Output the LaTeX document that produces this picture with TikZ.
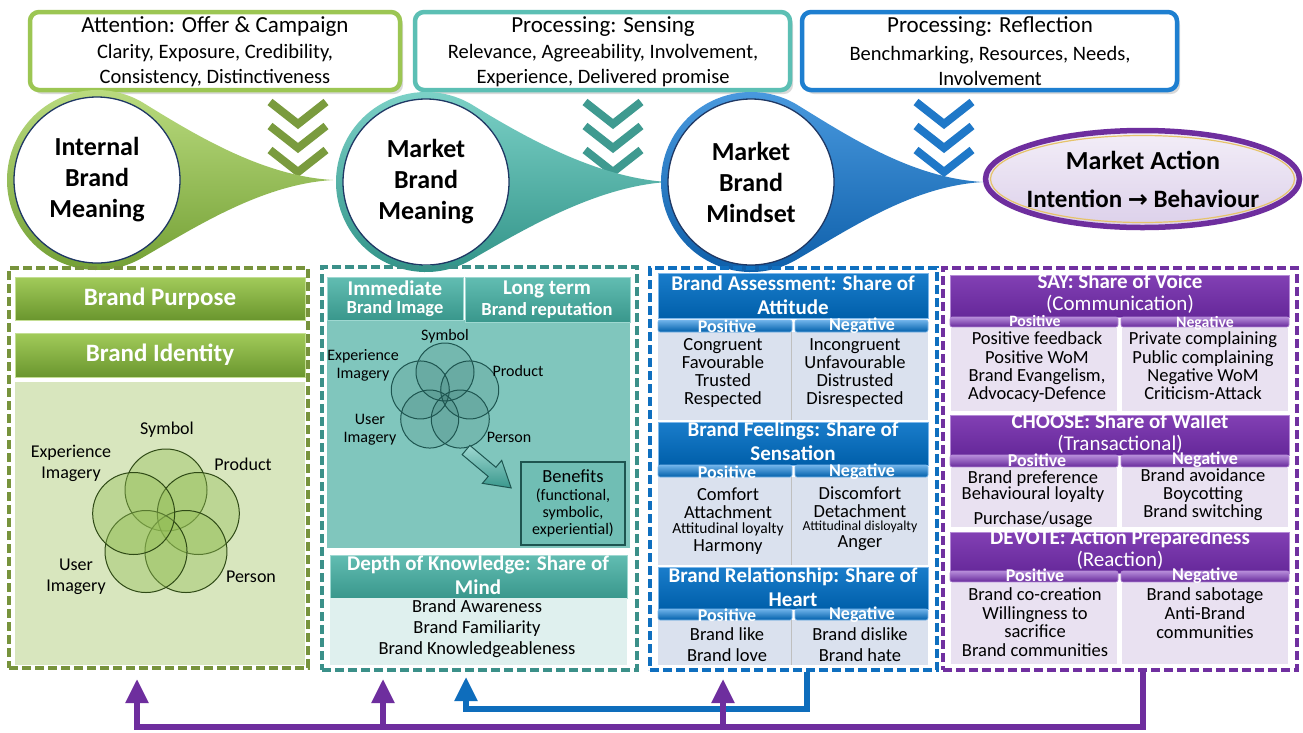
\documentclass[tikz,border=0pt]{standalone}
\usepackage{fontspec}
\setmainfont{Carlito}
\newfontfamily\symfont{DejaVu Sans}
\usetikzlibrary{arrows.meta,shapes.geometric}
\newcommand{\fsz}[2]{\fontsize{#1}{#2}\selectfont}

% palette
\definecolor{gBox}{HTML}{9CC653}
\definecolor{tBox}{HTML}{5CBFB4}
\definecolor{bBox}{HTML}{1E7FD0}
\definecolor{gChev}{HTML}{7A9B3E}
\definecolor{tChev}{HTML}{3F9A90}
\definecolor{bChev}{HTML}{1F78C8}
\definecolor{tdGTop}{HTML}{BBDC80}
\definecolor{tdGBot}{HTML}{6F9C30}
\definecolor{tdTTop}{HTML}{7DD2C8}
\definecolor{tdTBot}{HTML}{2D8F84}
\definecolor{tdBTop}{HTML}{4A9ADF}
\definecolor{tdBBot}{HTML}{0A5BA6}
\definecolor{navy}{HTML}{1F3864}
\definecolor{ringY}{HTML}{E6C36A}
\definecolor{maTop}{HTML}{F3EEF8}
\definecolor{maBot}{HTML}{DCD0EA}
\definecolor{gDash}{HTML}{77933C}
\definecolor{gTop}{HTML}{A2CB5A}
\definecolor{gBot}{HTML}{6A962E}
\definecolor{gEdge}{HTML}{C4DE93}
\definecolor{gPanel}{HTML}{D8E6BE}
\definecolor{gVenn}{HTML}{93BE55}
\definecolor{gLine}{HTML}{2F4A16}
\definecolor{tDash}{HTML}{3B9089}
\definecolor{tTop}{HTML}{62BDB2}
\definecolor{tBot}{HTML}{39978C}
\definecolor{tEdge}{HTML}{9ED8D1}
\definecolor{tPanel}{HTML}{80C6BD}
\definecolor{tPale}{HTML}{DFF0EE}
\definecolor{tLine}{HTML}{1E5550}
\definecolor{tBen}{HTML}{70BEB4}
\definecolor{bDash}{HTML}{0F6FBF}
\definecolor{bMid}{HTML}{0E6DBC}
\definecolor{bTop}{HTML}{1A7DCB}
\definecolor{bBot}{HTML}{005FAA}
\definecolor{bSub}{HTML}{6FB3EA}
\definecolor{bEdge}{HTML}{7DB7EA}
\definecolor{bPanel}{HTML}{DAE1EE}
\definecolor{pDash}{HTML}{7030A0}
\definecolor{pMid}{HTML}{6E2E9E}
\definecolor{pTop}{HTML}{8240B4}
\definecolor{pBot}{HTML}{66289A}
\definecolor{pSub}{HTML}{B68CDA}
\definecolor{pEdge}{HTML}{B48AD6}
\definecolor{pPanel}{HTML}{E9E1F1}

% circle with a tapering tail to the right: cx, cy, tip distance, top colour, bottom colour
\newcommand{\teardrop}[5]{%
  \begin{scope}[shift={(#1,#2)}]
    \path[top color=#4, bottom color=#5]
      (-60:90) .. controls (100,-44) and (#3-70,-4) .. (#3,0)
      .. controls (#3-70,4) and (100,46) .. (60:90)
      arc[start angle=60, end angle=300, radius=90] -- cycle;
  \end{scope}}

\begin{document}
\begin{tikzpicture}[x=1pt,y=-1pt,
  lbl/.style={inner sep=0pt, align=center},
  topbox/.style={draw=#1, line width=4.5pt, fill=white, rounded corners=9pt},
  chev/.style={draw=#1, line width=8pt, line join=miter},
  brandcircle/.style={circle, draw=navy, line width=1.3pt, fill=white,
    minimum size=166pt, inner sep=0pt, align=center, font=\bfseries\fsz{26}{31}},
  dbox/.style={draw=#1, line width=4pt, dash pattern=on 9pt off 4pt, inner sep=0pt},
  gbar/.style={top color=gTop, bottom color=gBot, draw=gEdge, line width=0.8pt},
  tbar/.style={top color=tTop, bottom color=tBot, draw=tEdge, line width=0.8pt},
  bbar/.style={top color=bTop, bottom color=bBot, draw=bEdge, line width=0.8pt},
  pbar/.style={top color=pTop, bottom color=pBot, draw=pEdge, line width=0.8pt},
  bsub/.style={top color=bSub, bottom color=bBot, draw=bEdge, line width=0.6pt, rounded corners=2pt},
  psub/.style={top color=pSub, bottom color=pBot, draw=pEdge, line width=0.6pt, rounded corners=2pt},
  whead/.style={lbl, text=white, font=\bfseries\fsz{21}{24}},
  phead/.style={lbl, text=white, font=\fsz{21}{22}},
  subtxt/.style={lbl, text=white, font=\bfseries\fsz{18}{18}},
  body/.style={lbl, font=\fsz{18.5}{18}},
  venng/.style={fill=gVenn, fill opacity=0.4, draw=gLine, line width=1pt},
  vennt/.style={fill=tLine, fill opacity=0.12, draw=tLine, line width=1pt},
  pline/.style={draw=pMid, line width=5.5pt},
  parrow/.style={pline, -{Triangle[width=22pt,length=24pt]}},
  bline/.style={draw=bMid, line width=5.5pt},
  barrow/.style={bline, -{Triangle[width=22pt,length=24pt]}},
]
\useasboundingbox (0,0) rectangle (1303,732);
\fill[white] (0,0) rectangle (1303,732);

% ---------- processing boxes ----------
\fill[black!15, rounded corners=9pt] (33,16) rectangle (403,94);
\draw[topbox=gBox] (30,12) rectangle (400,90);
\fill[black!15, rounded corners=9pt] (418,16) rectangle (793,94);
\draw[topbox=tBox] (415,12) rectangle (790,90);
\fill[black!15, rounded corners=9pt] (805,16) rectangle (1180,94);
\draw[topbox=bBox] (802,12) rectangle (1177,90);

\node[lbl, font=\fsz{23}{25}] (attT) at (215,27) {Attention: Offer \& Campaign};
\node[lbl, font=\fsz{20.5}{25}] (attX) at (215,66) {Clarity, Exposure, Credibility,\\Consistency, Distinctiveness};
\node[lbl, font=\fsz{23}{25}] (senT) at (603,27) {Processing: Sensing};
\node[lbl, font=\fsz{20.5}{25}] (senX) at (603,66) {Relevance, Agreeability, Involvement,\\Experience, Delivered promise};
\node[lbl, font=\fsz{23}{25}] (refT) at (990,27) {Processing: Reflection};
\node[lbl, font=\fsz{20.5}{25}] (refX) at (990,66) {Benchmarking, Resources, Needs,\\Involvement};

% ---------- chevrons ----------
\foreach \t in {102,126,150} {
  \draw[chev=gChev] (270,\t) -- (298,\t+22) -- (326,\t);
  \draw[chev=tChev] (585,\t) -- (613,\t+22) -- (641,\t);
  \draw[chev=bChev] (916,\t) -- (944,\t+22) -- (972,\t);
}

% ---------- brand circles ----------
\teardrop{97}{180}{236}{tdGTop}{tdGBot}
\teardrop{426}{182}{242}{tdTTop}{tdTBot}
\teardrop{751}{182}{232}{tdBTop}{tdBBot}
\node[brandcircle] (ibm) at (97,180) {Internal\\Brand\\Meaning};
\node[brandcircle] (mbm) at (426,182) {Market\\Brand\\Meaning};
\node[brandcircle] (mbs) at (751,182) {Market\\Brand\\Mindset};

\node[ellipse, draw=pMid, line width=5.5pt, top color=maTop, bottom color=maBot,
  minimum width=314pt, minimum height=97pt] (ma) at (1142.5,179) {};
\node[ellipse, draw=ringY, line width=1.2pt, minimum width=304pt, minimum height=87pt] (maring) at (ma.center) {};
\node[lbl, font=\bfseries\fsz{26}{26}] (maT) at (1143,160) {Market Action};
\node[lbl, font=\bfseries\fsz{25}{25}] (maB) at (1143,199) {Intention {\symfont\fsz{24}{24}→} Behaviour};

% ---------- column 1: internal brand meaning ----------
\path[gbar] (15,277) rectangle (305,320);
\node[lbl, text=white, font=\bfseries\fsz{25}{25}] (bpurp) at (160,298.5) {Brand Purpose};
\path[gbar] (15,333) rectangle (305,377);
\node[lbl, text=white, font=\bfseries\fsz{25}{25}] (bident) at (160,355) {Brand Identity};
\fill[gPanel] (15,382) rectangle (305,665);
\foreach \a in {-90,-18,54,126,198}
  \draw[venng] (166,524) ++(\a:34) circle[radius=41];
\node[lbl, font=\fsz{18}{21}] (g1) at (167,430) {Symbol};
\node[lbl, font=\fsz{18}{21}] (g2) at (71,463) {Experience\\Imagery};
\node[lbl, font=\fsz{18}{21}] (g3) at (243,464) {Product};
\node[lbl, font=\fsz{18}{21}] (g4) at (76,577) {User\\Imagery};
\node[lbl, font=\fsz{18}{21}] (g5) at (251,577) {Person};
\node[dbox=gDash, minimum width=299pt, minimum height=400pt] (col1) at (158.5,468) {};

% ---------- column 2: market brand meaning ----------
\fill[tPanel] (327,320) rectangle (630,548);
\path[tbar] (327,277) rectangle (463,320);
\path[tbar] (465,277) rectangle (630,322);
\node[lbl, text=white, font=\bfseries\fsz{21}{21}] (imm1) at (395,288) {Immediate};
\node[lbl, text=white, font=\bfseries\fsz{18.5}{18.5}] (imm2) at (395,309) {Brand Image};
\node[lbl, text=white, font=\bfseries\fsz{21}{21}] (lt1) at (547,289) {Long term};
\node[lbl, text=white, font=\bfseries\fsz{18.5}{18.5}] (lt2) at (547,310) {Brand reputation};
\foreach \a in {-90,-18,54,126,198}
  \draw[vennt] (445,398) ++(\a:26) circle[radius=29];
\node[lbl, font=\fsz{16}{18}] (t1) at (445,336) {Symbol};
\node[lbl, font=\fsz{16}{18}] (t2) at (363,365) {Experience\\Imagery};
\node[lbl, font=\fsz{16}{18}] (t3) at (518,371) {Product};
\node[lbl, font=\fsz{16}{18}] (t4) at (370,430) {User\\Imagery};
\node[lbl, font=\fsz{16}{18}] (t5) at (509,437) {Person};
\begin{scope}[shift={(466,450)}, rotate=-40]
  \path[top color=tEdge, bottom color=tBot, draw=tLine, line width=1pt]
    (0,-6) -- (34,-6) -- (34,-15) -- (59,0) -- (34,15) -- (34,6) -- (0,6) -- cycle;
\end{scope}
\node[draw=tLine, line width=1.6pt, fill=tBen, minimum width=104pt, minimum height=83pt, inner sep=0pt] (ben) at (573,503.5) {};
\node[lbl, font=\fsz{18.5}{18}] (benT) at (573,476) {Benefits};
\node[lbl, font=\fsz{16}{17}] (benX) at (573,512.5) {(functional,\\symbolic,\\experiential)};
\path[tbar] (330,555) rectangle (627,598);
\node[whead] (dok) at (478,575) {Depth of Knowledge: Share of\\Mind};
\fill[tPale] (330,598) rectangle (627,665);
\node[lbl, font=\fsz{18.5}{21}] (dokX) at (477,629) {Brand Awareness\\Brand Familiarity\\Brand Knowledgeableness};
\node[dbox=tDash, minimum width=315pt, minimum height=403pt] (col2) at (479.5,468.5) {};

% ---------- column 3: market brand mindset ----------
\path[bbar] (658,273) rectangle (928,318);
\node[whead] (ba) at (793,295) {Brand Assessment: Share of\\Attitude};
\fill[bPanel] (658,332) rectangle (928,420);
\draw[white!75!black, line width=0.8pt] (791,332) -- (791,420);
\path[bsub] (658,320) rectangle (792,332);
\path[bsub] (795,320) rectangle (928,332);
\node[subtxt] (baP) at (727,326) {Positive};
\node[subtxt] (baN) at (862,326) {Negative};
\node[body, font=\fsz{18.5}{17.7}] (baL) at (723,373) {Congruent\\Favourable\\Trusted\\Respected};
\node[body, font=\fsz{18.5}{17.7}] (baR) at (855,373) {Incongruent\\Unfavourable\\Distrusted\\Disrespected};

\path[bbar] (658,422) rectangle (928,465);
\node[whead] (bf) at (793,441.5) {Brand Feelings: Share of\\Sensation};
\fill[bPanel] (658,477) rectangle (928,565);
\draw[white!75!black, line width=0.8pt] (791,477) -- (791,565);
\path[bsub] (658,465) rectangle (792,477);
\path[bsub] (795,465) rectangle (928,477);
\node[subtxt] (bfP) at (727,472) {Positive};
\node[subtxt] (bfN) at (862,472) {Negative};
\node[body] (bfL1) at (728,494) {Comfort};
\node[body] (bfL2) at (728,512) {Attachment};
\node[lbl, font=\fsz{15.5}{15.5}] (bfL3) at (728,529) {Attitudinal loyalty};
\node[body] (bfL4) at (728,547) {Harmony};
\node[body] (bfR1) at (860,493) {Discomfort};
\node[body] (bfR2) at (860,511) {Detachment};
\node[lbl, font=\fsz{13.8}{13.8}] (bfR3) at (860,527) {Attitudinal disloyalty};
\node[body] (bfR4) at (860,543) {Anger};

\path[bbar] (658,567) rectangle (928,609);
\node[whead] (br) at (793,587) {Brand Relationship: Share of\\Heart};
\fill[bPanel] (658,620) rectangle (928,665);
\draw[white!75!black, line width=0.8pt] (791,620) -- (791,665);
\path[bsub] (658,609) rectangle (792,620);
\path[bsub] (795,609) rectangle (928,620);
\node[subtxt] (brP) at (727,615) {Positive};
\node[subtxt] (brN) at (862,615) {Negative};
\node[body, font=\fsz{18.5}{21}] (brL) at (727,644.5) {Brand like\\Brand love};
\node[body, font=\fsz{18.5}{21}] (brR) at (860,644.5) {Brand dislike\\Brand hate};
\node[dbox=bDash, minimum width=287pt, minimum height=402pt] (col3) at (793.5,469) {};

% ---------- column 4: market action ----------
\path[pbar] (950,275) rectangle (1289,317);
\node[phead] (say) at (1120,294) {\textbf{SAY: Share of Voice}\\(Communication)};
\fill[pPanel, draw=white, line width=1.5pt] (950,327) rectangle (1118,412);
\fill[pPanel, draw=white, line width=1.5pt] (1121,327) rectangle (1289,412);
\path[psub] (950,317) rectangle (1118,327);
\path[psub] (1121,317) rectangle (1289,327);
\node[subtxt, font=\bfseries\fsz{15.8}{15.8}] (sayP) at (1035,321) {Positive};
\node[subtxt, font=\bfseries\fsz{15.8}{15.8}] (sayN) at (1205,323) {Negative};
\node[body, font=\fsz{18.5}{18.3}] (sayL) at (1037,367.5) {Positive feedback\\Positive WoM\\Brand Evangelism,\\Advocacy-Defence};
\node[body, font=\fsz{18.5}{18.3}] (sayR) at (1203,366) {Private complaining\\Public complaining\\Negative WoM\\Criticism-Attack};

\path[pbar] (950,415) rectangle (1289,455);
\node[phead] (choose) at (1120,433.5) {\textbf{CHOOSE: Share of Wallet}\\(Transactional)};
\fill[pPanel, draw=white, line width=1.5pt] (950,467) rectangle (1118,528);
\fill[pPanel, draw=white, line width=1.5pt] (1121,467) rectangle (1289,528);
\path[psub] (950,455) rectangle (1118,467);
\path[psub] (1121,455) rectangle (1289,467);
\node[subtxt] (chP) at (1037,460) {Positive};
\node[subtxt] (chN) at (1205,460) {Negative};
\node[body] (chL1) at (1033,479) {Brand preference};
\node[body] (chL2) at (1033,495) {Behavioural loyalty};
\node[body] (chL3) at (1033,520) {Purchase/usage};
\node[body, font=\fsz{18.5}{18}] (chR) at (1203,495) {Brand avoidance\\Boycotting\\Brand switching};

\path[pbar] (950,532) rectangle (1289,573);
\node[phead] (devote) at (1120,549.5) {\textbf{DEVOTE: Action Preparedness}\\(Reaction)};
\fill[pPanel, draw=white, line width=1.5pt] (950,582) rectangle (1118,665);
\fill[pPanel, draw=white, line width=1.5pt] (1121,582) rectangle (1289,665);
\path[psub] (950,571) rectangle (1118,582);
\path[psub] (1121,571) rectangle (1289,582);
\node[subtxt] (dvP) at (1035,575) {Positive};
\node[subtxt] (dvN) at (1205,576) {Negative};
\node[body, font=\fsz{18.5}{18.7}] (dvL) at (1035,622) {Brand co-creation\\Willingness to\\sacrifice\\Brand communities};
\node[body, font=\fsz{18.5}{18.7}] (dvR) at (1205,613) {Brand sabotage\\Anti-Brand\\communities};
\node[dbox=pDash, minimum width=354pt, minimum height=402pt] (col4) at (1120,469) {};

% ---------- feedback loops ----------
\coordinate (j1) at (137,727);
\coordinate (j2) at (383,727);
\coordinate (j3) at (723,727);
\coordinate (j4) at (1143,727);
\coordinate (b1) at (807,709);
\coordinate (b2) at (466,709);
\draw[barrow, shorten >=5pt] (col3.south -| b1) -- (b1) -- (b2) -- (b2 |- col2.south);
\draw[parrow, shorten >=9pt] (col4.south -| j4) -- (j4) -- (j1) -- (j1 |- col1.south);
\draw[parrow, shorten >=7pt] (j2) -- (j2 |- col2.south);
\draw[parrow, shorten >=7pt] (j3) -- (j3 |- col3.south);
\end{tikzpicture}
\end{document}
